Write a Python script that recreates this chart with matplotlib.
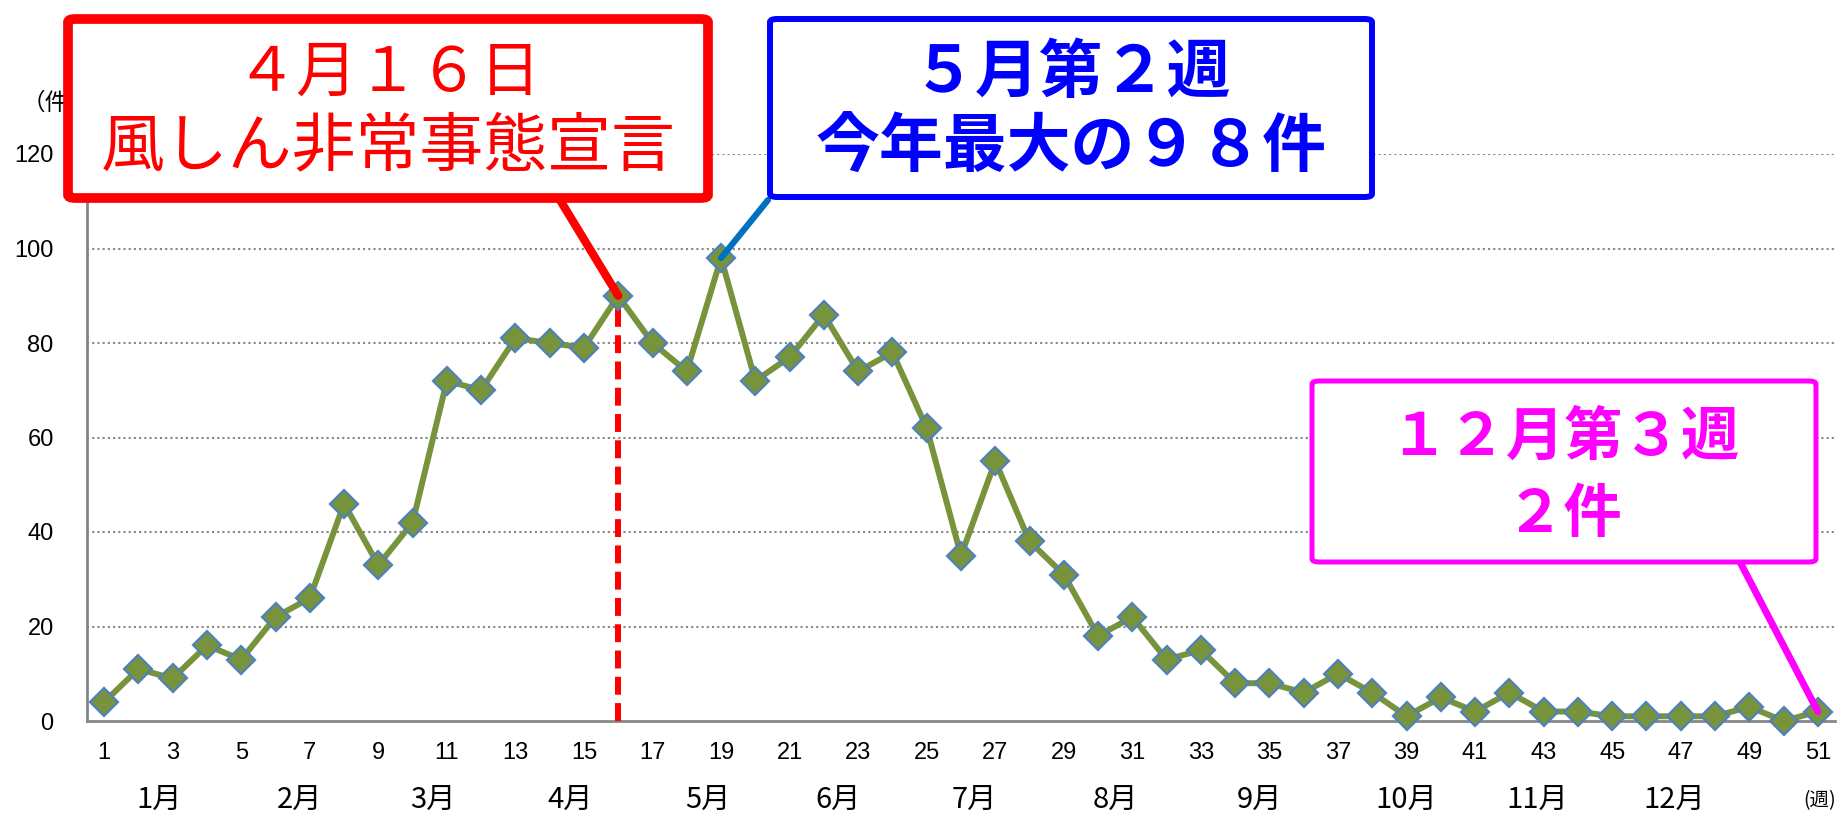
import matplotlib
matplotlib.use("Agg")
import matplotlib.pyplot as plt
from matplotlib.patches import FancyBboxPatch
import matplotlib.transforms as mtransforms

# ---- data ----
weeks = list(range(1, 52))
cases = [4, 11, 9, 16, 13, 22, 26, 46, 33, 42,
         72, 70, 81, 80, 79, 90, 80, 74, 98, 72,
         77, 86, 74, 78, 62, 35, 55, 38, 31, 18,
         22, 13, 15, 8, 8, 6, 10, 6, 1, 5,
         2, 6, 2, 2, 1, 1, 1, 1, 3, 0, 2]
xtick_weeks = list(range(1, 52, 2))
yticks = [0, 20, 40, 60, 80, 100, 120]
month_labels = ["1月", "2月", "3月", "4月", "5月", "6月",
                "7月", "8月", "9月", "10月", "11月", "12月"]
month_label_pos = [2.6, 6.7, 10.6, 14.6, 18.6, 22.4,
                   26.4, 30.5, 34.7, 39.0, 42.8, 46.8]
emergency_week = 16
peak_week = 19
last_week = 51

W, H = 1838, 816
fig = plt.figure(figsize=(W / 100, H / 100), dpi=100)
ax = fig.add_axes([87 / W, 1 - 721 / H, (1835 - 87) / W, (721 - 154) / H])

JP = ["Noto Sans CJK JP", "DejaVu Sans"]
NUM = ["Liberation Sans", "DejaVu Sans"]

gray = "#868686"
ax.set_xlim(0.5, 51.5)
ax.set_ylim(0, 120)
for y in yticks[1:]:
    ax.axhline(y, color=gray, lw=1.5, ls=(0, (1, 1.5)), zorder=1)
for s in ["top", "right"]:
    ax.spines[s].set_visible(False)
for s in ["left", "bottom"]:
    ax.spines[s].set_color(gray)
    ax.spines[s].set_linewidth(2)

ax.set_yticks(yticks)
ax.set_yticklabels([str(v) for v in yticks], fontfamily=NUM, fontsize=17)
ax.set_xticks(xtick_weeks)
ax.set_xticklabels([str(v) for v in xtick_weeks], fontfamily=NUM, fontsize=17)
ax.tick_params(axis="y", length=0, pad=24)
ax.tick_params(axis="x", length=0, pad=15)

# month labels
trans = mtransforms.blended_transform_factory(ax.transData, ax.transAxes)
for lab, p in zip(month_labels, month_label_pos):
    ax.text(p, -0.139, lab, transform=trans, ha="center", va="center",
            fontsize=21, fontfamily=JP)
fig.text(1836 / W, 1 - 801 / H, "(週)", ha="right", va="center",
         fontsize=14, fontfamily=JP)
fig.text(22 / W, 1 - 103 / H, "（件）", ha="left", va="center",
         fontsize=17, fontfamily=JP, zorder=0)

# data line
ax.plot(weeks, cases, color="#77933C", lw=4.3, marker="D", markersize=14,
        markerfacecolor="#77933C", markeredgecolor="#4F81BD",
        markeredgewidth=1.6, zorder=5, clip_on=False)

# red dashed vertical line
ax.plot([emergency_week, emergency_week], [0, cases[emergency_week - 1]],
        color="#FF0000", lw=4.3, ls=(0, (3, 1.4)), zorder=4, clip_on=False)


def fig_xy(px, py):
    return (px / W, 1 - py / H)


def connector(x0, y0, week, val, color, lw):
    ax.annotate("", xy=(week, val), xycoords="data",
                xytext=fig_xy(x0, y0), textcoords="figure fraction",
                arrowprops=dict(arrowstyle="-", color=color, lw=lw,
                                shrinkA=0, shrinkB=0),
                annotation_clip=False, zorder=6)


connector(560, 200, emergency_week, cases[emergency_week - 1], "#FF0000", 6)
connector(768, 200, peak_week, cases[peak_week - 1], "#0070C0", 4.5)
connector(1740, 562, last_week, cases[last_week - 1], "#FF00FF", 5)


def box(x0, y0, x1, y1, color, lw):
    (fx0, fy1) = fig_xy(x0, y0)
    (fx1, fy0) = fig_xy(x1, y1)
    p = FancyBboxPatch((fx0, fy0), fx1 - fx0, fy1 - fy0,
                       boxstyle="round,pad=0,rounding_size=0.004",
                       transform=fig.transFigure, facecolor="white",
                       edgecolor=color, lw=lw, zorder=10)
    fig.patches.append(p)


box(68, 19, 708, 198, "#FF0000", 7)
fig.text(388 / W, 1 - 73 / H, "４月１６日", ha="center", va="center",
         fontsize=44, color="#FF0000", fontfamily=JP, zorder=11)
fig.text(388 / W, 1 - 147 / H, "風しん非常事態宣言", ha="center", va="center",
         fontsize=46, color="#FF0000", fontfamily=JP, zorder=11)

box(770, 19, 1372, 197, "#0000FF", 4.3)
fig.text(1071 / W, 1 - 73 / H, "５月第２週", ha="center", va="center",
         fontsize=46, color="#0000FF", fontweight="bold", fontfamily=JP, zorder=11)
fig.text(1071 / W, 1 - 147 / H, "今年最大の９８件", ha="center", va="center",
         fontsize=46, color="#0000FF", fontweight="bold", fontfamily=JP, zorder=11)

box(1312, 381, 1816, 562, "#FF00FF", 3.6)
fig.text(1564 / W, 1 - 438 / H, "１２月第３週", ha="center", va="center",
         fontsize=42, color="#FF00FF", fontweight="bold", fontfamily=JP, zorder=11)
fig.text(1564 / W, 1 - 515 / H, "２件", ha="center", va="center",
         fontsize=42, color="#FF00FF", fontweight="bold", fontfamily=JP, zorder=11)

fig.savefig("out.png", dpi=100)
